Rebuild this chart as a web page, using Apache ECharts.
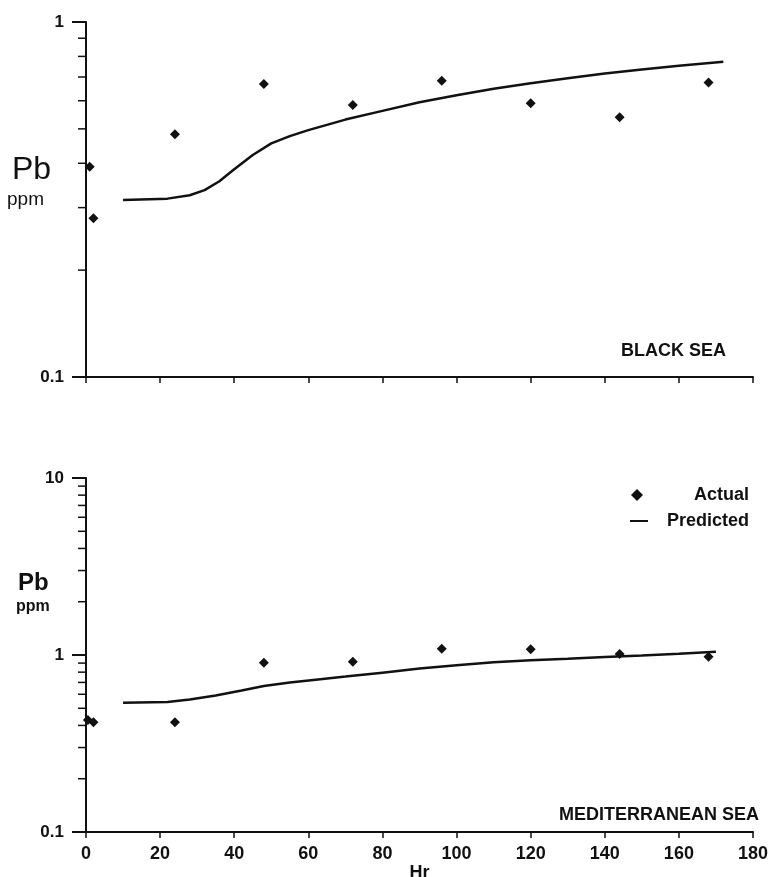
<!DOCTYPE html>
<html>
<head>
<meta charset="utf-8">
<script src="https://cdn.jsdelivr.net/npm/echarts@6.0.0/dist/echarts.min.js"></script>
<style>
  html, body { margin: 0; padding: 0; background: #fff; }
  #chart { width: 772px; height: 877px; }
</style>
</head>
<body>
<div id="chart"></div>
<script>
// hours on the x axis
var xTicks = [0, 20, 40, 60, 80, 100, 120, 140, 160, 180];

// Black Sea
var blackActual = [[1, 0.391], [2, 0.28], [24, 0.483], [48, 0.669], [72, 0.584], [96, 0.683], [120, 0.59], [144, 0.539], [168, 0.675]];
var blackPredicted = [[10, 0.315], [22, 0.318], [28, 0.325], [32, 0.336], [36, 0.356], [40, 0.385], [45, 0.422], [50, 0.455], [55, 0.477], [60, 0.496], [70, 0.531], [80, 0.562], [90, 0.594], [100, 0.622], [110, 0.649], [120, 0.672], [130, 0.694], [140, 0.716], [150, 0.735], [160, 0.753], [172, 0.773]];

// Mediterranean Sea
var medActual = [[0.5, 0.43], [2, 0.417], [24, 0.417], [48, 0.905], [72, 0.917], [96, 1.086], [120, 1.077], [144, 1.013], [168, 0.978]];
var medPredicted = [[10, 0.537], [22, 0.542], [28, 0.56], [35, 0.59], [42, 0.63], [48, 0.668], [55, 0.7], [62, 0.725], [70, 0.755], [80, 0.795], [90, 0.838], [100, 0.875], [110, 0.91], [120, 0.935], [130, 0.953], [140, 0.975], [150, 0.995], [160, 1.018], [170, 1.044]];

// log axis minor ticks (2..9 in each decade)
var minorFactors = [2, 3, 4, 5, 6, 7, 8, 9];
var topDecades = [0.1];
var bottomDecades = [0.1, 1];

var FONT = "'Liberation Sans', Arial, sans-serif";
var INK = '#111';

var chart = echarts.init(document.getElementById('chart'));

function xAxisOf(grid, showLabel) {
  return {
    gridIndex: grid,
    type: 'value',
    min: 0,
    max: 180,
    interval: 20,
    name: showLabel ? 'Hr' : '',
    nameLocation: 'middle',
    nameGap: 31,
    nameTextStyle: { color: INK, fontFamily: FONT, fontSize: 18, fontWeight: 'bold' },
    axisLine: { show: true, onZero: false, lineStyle: { color: INK, width: 2 } },
    axisTick: { show: true, inside: false, length: 6, lineStyle: { color: INK, width: 1.5 } },
    axisLabel: { show: showLabel, margin: 13, color: INK, fontFamily: FONT, fontSize: 18, fontWeight: 'bold' },
    splitLine: { show: false }
  };
}

function yAxisOf(grid, min, max) {
  return {
    gridIndex: grid,
    type: 'log',
    logBase: 10,
    min: min,
    max: max,
    axisLine: { show: true, lineStyle: { color: INK, width: 2 } },
    axisTick: { show: true, inside: false, length: 14, lineStyle: { color: INK, width: 2 } },
    axisLabel: { margin: 22, color: INK, fontFamily: FONT, fontSize: 17, fontWeight: 'bold',
      formatter: function (v) { return v >= 1 ? String(Math.round(v)) : String(v); } },
    splitLine: { show: false },
    minorTick: { show: false }
  };
}

function legendOf(name, top, iconW, iconH, textW, extra) {
  var item = { name: name };
  for (var k in extra) item[k] = extra[k];
  return {
    orient: 'vertical',
    right: 18,
    top: top,
    itemWidth: iconW,
    itemHeight: iconH,
    data: [item],
    formatter: function (n) { return '{t|' + n + '}'; },
    textStyle: {
      color: INK,
      rich: { t: { width: textW, align: 'right', fontFamily: FONT, fontSize: 18, fontWeight: 'bold', color: INK } }
    }
  };
}

var option = {
  animation: false,
  backgroundColor: '#fff',
  grid: [
    { left: 86, right: 19, top: 22, height: 355, outerBoundsMode: 'none', containLabel: false },
    { left: 86, right: 19, top: 478, height: 354, outerBoundsMode: 'none', containLabel: false }
  ],
  xAxis: [xAxisOf(0, false), xAxisOf(1, true)],
  yAxis: [yAxisOf(0, 0.1, 1), yAxisOf(1, 0.1, 10)],
  legend: [
    legendOf('Actual', 481, 12, 12, 101, { icon: 'diamond' }),
    legendOf('Predicted', 507, 18, 10, 96, { itemStyle: { color: 'rgba(0,0,0,0)', borderWidth: 0 } })
  ],
  series: [
    { name: 'Actual', type: 'scatter', xAxisIndex: 0, yAxisIndex: 0, symbol: 'diamond', symbolSize: 10,
      itemStyle: { color: INK, opacity: 1 }, data: blackActual },
    { name: 'Predicted', type: 'line', xAxisIndex: 0, yAxisIndex: 0, symbol: 'none', smooth: false,
      lineStyle: { color: INK, width: 2.5 }, itemStyle: { color: INK }, data: blackPredicted },
    { name: 'Actual', type: 'scatter', xAxisIndex: 1, yAxisIndex: 1, symbol: 'diamond', symbolSize: 10,
      itemStyle: { color: INK, opacity: 1 }, data: medActual },
    { name: 'Predicted', type: 'line', xAxisIndex: 1, yAxisIndex: 1, symbol: 'none', smooth: false,
      lineStyle: { color: INK, width: 2.5 }, itemStyle: { color: INK }, data: medPredicted }
  ]
};

chart.setOption(option);

// minor ticks and free text, placed with the library's own scales
var elements = [];
function addMinorTicks(axisIdx, gridIdx, decades) {
  var x0 = chart.convertToPixel({ xAxisIndex: gridIdx }, 0);
  decades.forEach(function (d) {
    minorFactors.forEach(function (f) {
      var y = chart.convertToPixel({ yAxisIndex: axisIdx }, d * f);
      elements.push({ type: 'line', shape: { x1: x0 - 8, y1: y, x2: x0, y2: y },
        style: { stroke: INK, lineWidth: 1.5 } });
    });
  });
}
addMinorTicks(0, 0, topDecades);
addMinorTicks(1, 1, bottomDecades);

function label(text, x, y, size, weight, align) {
  elements.push({ type: 'text', x: x, y: y,
    style: { text: text, fill: INK, font: weight + ' ' + size + 'px ' + FONT, textAlign: align || 'left', textVerticalAlign: 'middle' } });
}
label('Pb', 12, 170, 32, 'normal');
label('ppm', 7, 200, 19, 'normal');
label('Pb', 18, 583, 24, 'bold');
label('ppm', 16, 607, 16, 'bold');
label('BLACK SEA', 726, 351, 18, 'bold', 'right');
label('MEDITERRANEAN SEA', 759, 815, 18, 'bold', 'right');

chart.setOption({ graphic: { elements: elements } });
</script>
</body>
</html>
